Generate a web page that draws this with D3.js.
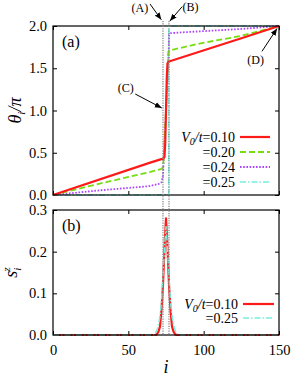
<!DOCTYPE html>
<html>
<head>
<meta charset="utf-8">
<script src="https://cdn.jsdelivr.net/npm/d3@7.9.0/dist/d3.min.js"></script>
<style>
  body { margin: 0; background: #fff; }
  svg text { font-family: "Liberation Serif", "Times New Roman", serif; fill: #000; }
</style>
</head>
<body>
<svg id="chart" width="291" height="379" font-family="Liberation Serif"></svg>
<script>
// ---- data ----
const xTicks = [0, 50, 100, 150];
const thetaTicks = [0, 0.5, 1.0, 1.5, 2.0];
const szTicks = [0, 0.1, 0.2, 0.3];
const wallSites = [73, 77];   // dotted vertical guides

// theta_i / pi, panel (a)
const theta010 = [[0,0],[64,0.38],[73,0.43],[74,0.45],[74.5,0.62],[75,1.0],[75.5,1.38],[76,1.56],[77,1.58],[124,1.85],[150,2.0]];
const theta020 = [[0,0],[31,0.135],[64,0.27],[72,0.31],[73,0.33],[73.3,0.39],[75,1.0],[76.5,1.68],[77,1.71],[98,1.795],[124,1.88],[150,2.0]];
const theta024 = [[0,0],[31,0.055],[64,0.105],[70,0.13],[72,0.15],[73,0.23],[75,1.0],[76.8,1.72],[77,1.89],[78,1.915],[86,1.925],[124,1.964],[150,2.0]];
const theta025 = [[0,0],[76.8,0],[76.8,2.0],[150,2.0]];

// s_i^z, panel (b)
const sz010 = [[0,0],[68,0],[69,0.002],[70,0.008],[71,0.02],[72,0.06],[73,0.12],[74,0.21],[75,0.28],[76,0.21],[77,0.12],[78,0.06],[79,0.02],[80,0.008],[81,0.002],[82,0],[150,0]];
const sz025 = [[0,0],[67,0],[68,0.005],[69,0.012],[70,0.025],[71,0.045],[72,0.08],[73,0.14],[74,0.21],[75,0.26],[76,0.21],[77,0.14],[78,0.08],[79,0.045],[80,0.025],[81,0.012],[82,0.005],[83,0],[150,0]];

const series = [
  { label: "0.10", data: theta010, color: "#ff1a1a", width: 2.2, dash: null },
  { label: "0.20", data: theta020, color: "#77dd11", width: 1.8, dash: "6,3" },
  { label: "0.24", data: theta024, color: "#b044ff", width: 1.8, dash: "1.6,1.6" },
  { label: "0.25", data: theta025, color: "#77eedd", width: 1.5, dash: "6,2,1.5,2" }
];
const seriesB = [
  { label: "0.10", data: sz010, color: "#ff1a1a", width: 2.2, dash: null },
  { label: "0.25", data: sz025, color: "#77eedd", width: 1.5, dash: "6,2,1.5,2" }
];

// annotations (data coordinates of panel a)
const notes = [
  { text: "(A)", at: [57.7, 2.166], from: [64.4, 2.26], to: [71.9, 2.075] },
  { text: "(B)", at: [91.2, 2.178], from: [85.8, 2.23], to: [77.6, 2.06] },
  { text: "(C)", at: [48.3, 1.22], from: [54.6, 1.195], to: [72.2, 1.03] },
  { text: "(D)", at: [134.5, 1.55], from: [138.7, 1.70], to: [148.7, 1.97] }
];

const svg = d3.select("#chart");
const x = d3.scaleLinear().domain([0, 150]).range([53, 279]);
const ya = d3.scaleLinear().domain([0, 2]).range([195, 26]);
const yb = d3.scaleLinear().domain([0, 0.3]).range([335, 210]);

svg.append("defs").append("marker")
  .attr("id", "arrow")
  .attr("viewBox", "0 0 10 10")
  .attr("refX", 10).attr("refY", 5)
  .attr("markerWidth", 7).attr("markerHeight", 7)
  .attr("markerUnits", "userSpaceOnUse")
  .attr("orient", "auto")
  .append("path").attr("d", "M0,1 L10,5 L0,9 Z").attr("fill", "#000");

function panel(y, ticks, fmt, showX) {
  const g = svg.append("g");
  const left = g.append("g").attr("transform", `translate(${x(0)},0)`)
    .call(d3.axisLeft(y).tickValues(ticks).tickSize(-4).tickPadding(6).tickFormat(d3.format(fmt)));
  const right = g.append("g").attr("transform", `translate(${x(150)},0)`)
    .call(d3.axisRight(y).tickValues(ticks).tickSize(-4).tickFormat(""));
  const top = g.append("g").attr("transform", `translate(0,${y.range()[1]})`)
    .call(d3.axisTop(x).tickValues(xTicks).tickSize(-4).tickFormat(""));
  const bottom = g.append("g").attr("transform", `translate(0,${y.range()[0]})`)
    .call(d3.axisBottom(x).tickValues(xTicks).tickSize(-4).tickPadding(10)
      .tickFormat(showX ? d3.format("d") : ""));
  [left, right, top, bottom].forEach(a => {
    a.attr("font-family", "Liberation Serif");
    a.select(".domain").remove();
    a.selectAll("text").style("font-family", "Liberation Serif").style("font-size", "14.5px").attr("fill", "#000");
    a.selectAll("line").attr("stroke", "#000");
  });
  return g;
}

const line = (y) => d3.line().x(d => x(d[0])).y(d => y(d[1]));

function drawSeries(list, y) {
  list.forEach(s => {
    svg.append("path")
      .attr("d", line(y)(s.data))
      .attr("fill", "none")
      .attr("stroke", s.color)
      .attr("stroke-width", s.width)
      .attr("stroke-dasharray", s.dash)
      .attr("stroke-linejoin", "round");
  });
}

// panel (a)
panel(ya, thetaTicks, ".1f", false);
// draw in reverse so red sits on top
drawSeries([series[3], series[2], series[1], series[0]], ya);

// panel (b)
panel(yb, szTicks, ".1f", true);
drawSeries([seriesB[0], seriesB[1]], yb);

// frames
[ya, yb].forEach(y => {
  svg.append("rect")
    .attr("x", x(0)).attr("y", y.range()[1])
    .attr("width", x(150) - x(0)).attr("height", y.range()[0] - y.range()[1])
    .attr("fill", "none").attr("stroke", "#000").attr("stroke-width", 1.2);
});

// dotted wall guides spanning both panels
wallSites.forEach(i => {
  svg.append("line")
    .attr("x1", x(i)).attr("x2", x(i))
    .attr("y1", ya(2.06)).attr("y2", yb(0))
    .attr("stroke", "#888").attr("stroke-width", 1.3)
    .attr("stroke-dasharray", "1.2,1.2");
});

// annotations
notes.forEach(n => {
  svg.append("line")
    .attr("x1", x(n.from[0])).attr("y1", ya(n.from[1]))
    .attr("x2", x(n.to[0])).attr("y2", ya(n.to[1]))
    .attr("stroke", "#000").attr("stroke-width", 1)
    .attr("marker-end", "url(#arrow)");
  svg.append("text")
    .attr("x", x(n.at[0])).attr("y", ya(n.at[1]))
    .attr("text-anchor", "middle")
    .style("font-size", "12px")
    .text(n.text);
});

// panel letters
svg.append("text").attr("x", 62).attr("y", 47).style("font-size", "16px").text("(a)");
svg.append("text").attr("x", 62).attr("y", 231).style("font-size", "16px").text("(b)");

// legends
function legend(list, rows, textRight, x0, x1) {
  list.forEach((s, k) => {
    const yy = rows[k];
    const t = svg.append("text").attr("x", textRight).attr("y", yy + 4.5)
      .attr("text-anchor", "end").style("font-size", "14px");
    if (k === 0) {
      t.append("tspan").style("font-style", "italic").text("V");
      t.append("tspan").style("font-style", "italic").style("font-size", "10px").attr("dy", 3).text("0");
      t.append("tspan").style("font-style", "italic").attr("dy", -3).text("/t");
      t.append("tspan").text("=" + s.label);
    } else {
      t.text("=" + s.label);
    }
    svg.append("line")
      .attr("x1", x0).attr("x2", x1).attr("y1", yy).attr("y2", yy)
      .attr("stroke", s.color).attr("stroke-width", s.width)
      .attr("stroke-dasharray", s.dash);
  });
}
legend(series, [137, 152, 167, 182], 235, 240, 270);
legend(seriesB, [304, 318], 238, 243, 274);

// axis titles
const ylab = svg.append("text")
  .attr("transform", `translate(21,${ya(1)}) rotate(-90)`)
  .attr("text-anchor", "middle").style("font-size", "18px");
ylab.append("tspan").style("font-style", "italic").text("θ");
ylab.append("tspan").style("font-style", "italic").style("font-size", "11px").attr("dy", 4).text("i");
ylab.append("tspan").style("font-style", "italic").attr("dy", -4).text("/π");

const slab = svg.append("text")
  .attr("transform", `translate(17,${yb(0.15)}) rotate(-90)`)
  .attr("text-anchor", "middle").style("font-size", "18px");
slab.append("tspan").style("font-style", "italic").text("s");
slab.append("tspan").style("font-style", "italic").style("font-size", "11px").attr("dy", 4).text("i");
slab.append("tspan").style("font-style", "italic").style("font-size", "11px").attr("dx", -4).attr("dy", -11).text("z");

svg.append("text").attr("x", x(75)).attr("y", 373).attr("text-anchor", "middle")
  .style("font-size", "18px").style("font-style", "italic").text("i");
</script>
</body>
</html>
